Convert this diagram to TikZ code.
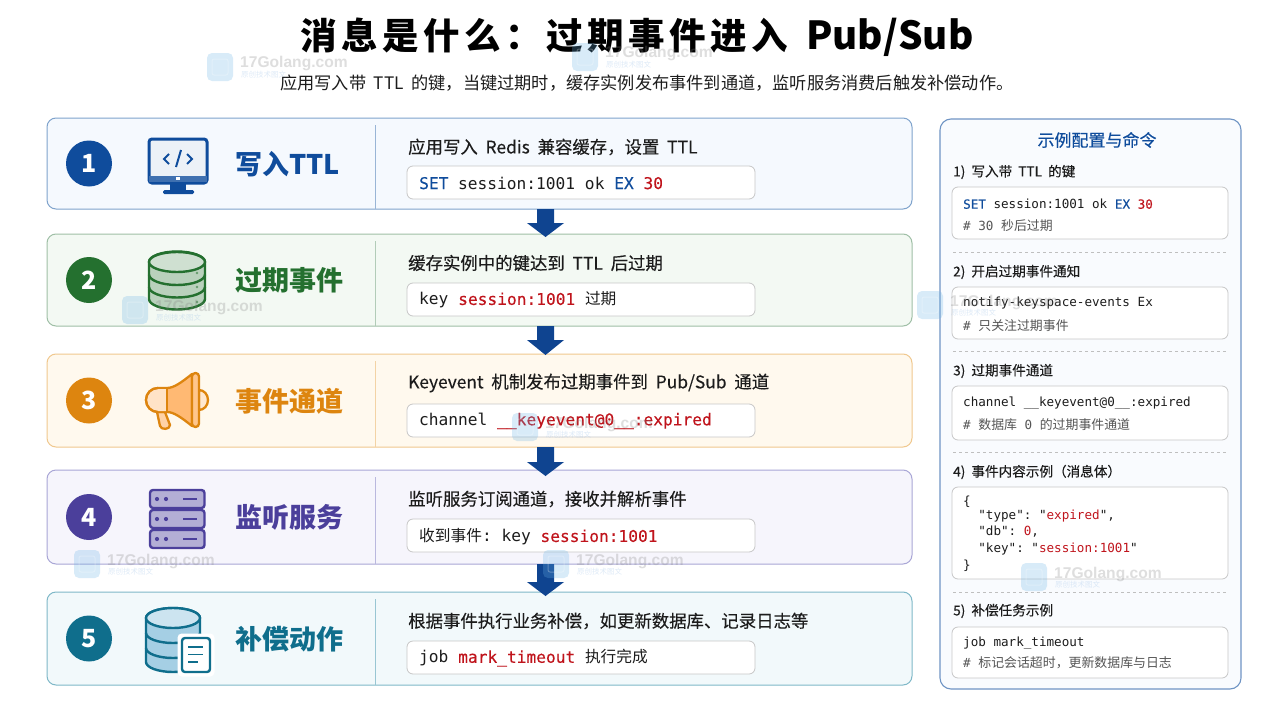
\documentclass[tikz,border=0pt]{standalone}
\usepackage{fontspec}
\setmainfont[WordSpace=2]{Noto Sans CJK SC}
\setmonofont{DejaVu Sans Mono}
\newfontfamily\cjk{Noto Sans CJK SC}
\newfontfamily\medf[WordSpace=2,FakeBold=0.25]{Noto Sans CJK SC}
\newfontfamily\titlecn[LetterSpace=12.5]{Noto Sans CJK SC}
\newfontfamily\monomed[FakeBold=0.25]{DejaVu Sans Mono}
\newfontfamily\wmfont{Liberation Sans}
\usetikzlibrary{calc}
\definecolor{cblue}{HTML}{0F4C9C}
\definecolor{cgreen}{HTML}{24702F}
\definecolor{corange}{HTML}{DD850F}
\definecolor{cpurple}{HTML}{4B3F9B}
\definecolor{cteal}{HTML}{0F6E8C}
\definecolor{cred}{HTML}{C0141C}
\definecolor{arrowblue}{HTML}{0F4490}
\definecolor{ink}{HTML}{1C1C1C}
\definecolor{gray1}{HTML}{555555}
\definecolor{fblue}{HTML}{F5F9FE}\definecolor{bblue}{HTML}{7FA3CC}
\definecolor{fgreen}{HTML}{F3F9F3}\definecolor{bgreen}{HTML}{9FBFA6}
\definecolor{forange}{HTML}{FFF9EE}\definecolor{borange}{HTML}{F0C88E}
\definecolor{fpurple}{HTML}{F6F5FC}\definecolor{bpurple}{HTML}{A9A6D6}
\definecolor{fteal}{HTML}{F2F9FB}\definecolor{bteal}{HTML}{7FB8C8}
\tikzset{
 card/.style={rounded corners=9pt,line width=1pt},
 codebox/.style={draw=black!22,fill=white,rounded corners=6pt,line width=.8pt},
 head/.style={anchor=west,inner sep=0pt,font=\medf\fontsize{17.4}{19}\selectfont,text=ink},
 codetext/.style={anchor=west,inner sep=0pt,font=\ttfamily\fontsize{16.2}{18}\selectfont,text=ink},
 label/.style={anchor=west,inner sep=0pt,font=\bfseries\fontsize{27}{29}\selectfont},
 num/.style={circle,minimum size=46pt,inner sep=0pt,text=white,font=\bfseries\fontsize{25}{25}\selectfont},
 shead/.style={anchor=west,inner sep=0pt,font=\medf\fontsize{13.6}{15}\selectfont,text=ink},
 scode/.style={anchor=west,inner sep=0pt,font=\ttfamily\fontsize{12.6}{14}\selectfont,text=ink},
 dashline/.style={draw=black!25,dashed,line width=.7pt},
 arrowblock/.style={fill=arrowblue,draw=none},
}
\newcommand{\cn}[1]{{\cjk\fontsize{15.7}{18}\selectfont #1}}
\newcommand{\sn}[1]{{\cjk\fontsize{12.9}{14}\selectfont #1}}
\newcommand{\kwb}[1]{\textcolor{cblue}{\monomed #1}}
\newcommand{\kwr}[1]{\textcolor{cred}{\monomed #1}}
\newcommand{\wm}[2]{%
 \begin{scope}[shift={(#1,#2)},opacity=.26]
 \fill[cyan!75!blue!60,rounded corners=5pt] (0,0) rectangle (26,28);
 \draw[white,line width=1pt,rounded corners=2pt] (5,6) rectangle (21,22);
 \node[anchor=west,inner sep=0pt,text=black!50,font=\wmfont\bfseries\fontsize{15.6}{15}\selectfont] at (33,11) {17Golang.com};
 \node[anchor=west,inner sep=0pt,text=cyan!60!blue!50,font=\cjk\fontsize{7.5}{8}\selectfont] at (34,22) {原创技术图文};
 \end{scope}}
\newcommand{\cardrow}[9]{% top,bottom,colour,fill,border,num,label,head,name
 \path[card,draw=#5,fill=#4] (47,#1) rectangle (912,#2);
 \draw[draw=#5!80,line width=.9pt] (375,#1+7) -- (375,#2);
 \node[num,fill=#3] (n#9) at (89,{(#1+#2)/2}) {#6};
 \node[label,text=#3] (l#9) at (235,{(#1+#2)/2+.5}) {#7};
 \node[head] (h#9) at (408,#1+29) {#8};
}
\begin{document}
\begin{tikzpicture}[x=1pt,y=-1pt]
\useasboundingbox (0,0) rectangle (1280,720);
\fill[white] (0,0) rectangle (1280,720);
% title
\node[anchor=west,inner sep=0pt,font=\bfseries\fontsize{38.6}{40}\selectfont,text=black] (title) at (300,37.5) {{\titlecn\fontsize{36.5}{40}\selectfont 消息是什么：过期事件进入} Pub/Sub};
\node[anchor=west,inner sep=0pt,font=\fontsize{17.2}{19}\selectfont,text=ink] (sub) at (280,83) {应用写入带 TTL 的键，当键过期时，缓存实例发布事件到通道，监听服务消费后触发补偿动作。};
% cards
\cardrow{118}{209}{cblue}{fblue}{bblue}{1}{写入TTL}{应用写入 Redis 兼容缓存，设置 TTL}{a}
\cardrow{234}{326}{cgreen}{fgreen}{bgreen}{2}{过期事件}{缓存实例中的键达到 TTL 后过期}{b}
\cardrow{354}{447}{corange}{forange}{borange}{3}{事件通道}{Keyevent 机制发布过期事件到 Pub/Sub 通道}{c}
\cardrow{470}{564}{cpurple}{fpurple}{bpurple}{4}{监听服务}{监听服务订阅通道，接收并解析事件}{d}
\cardrow{592}{685}{cteal}{fteal}{bteal}{5}{补偿动作}{根据事件执行业务补偿，如更新数据库、记录日志等}{e}
% code boxes
\path[codebox] (407,166) rectangle (755,199);
\node[codetext] (ca) at (419,183) {\kwb{SET} session:1001 ok \kwb{EX} \kwr{30}};
\path[codebox] (407,283) rectangle (755,316);
\node[codetext] (cb) at (419,300) {key \kwr{session:1001} \cn{过期}};
\path[codebox] (407,404) rectangle (755,437);
\node[codetext] (cc) at (419,421) {channel \kwr{\_\_keyevent@0\_\_:expired}};
\path[codebox] (407,519) rectangle (755,552);
\node[codetext] (cd) at (419,537) {\cn{收到事件}: key \kwr{session:1001}};
\path[codebox] (407,641) rectangle (755,674);
\node[codetext] (ce) at (419,658) {job \kwr{mark\_timeout} \cn{执行完成}};
% arrows
\foreach \t/\m/\b in {209/223/237, 326/340/355, 447/462/476, 564/582/596}{
 \path[arrowblock] (537,\t) -- (554,\t) -- (554,\m) -- (564,\m) -- (545.5,\b) -- (527,\m) -- (537,\m) -- cycle;
}
% icon 1 monitor
\begin{scope}
\fill[cblue] (170,183) rectangle (186,190);
\fill[cblue,rounded corners=1.5pt] (163,190) rectangle (194,194);
\path[draw=cblue,fill=cblue!8,line width=3pt,rounded corners=3pt] (149,139) rectangle (207,183);
\fill[cblue!80] (149,176) rectangle (207,182);
\fill[white] (176,177) rectangle (180,180);
\draw[cblue,line width=2pt] (169,154) -- (164,159) -- (169,164) (187,154) -- (192,159) -- (187,164) (181,150) -- (176,167);
\end{scope}
% icon 2 DB green
\begin{scope}[line width=2.4pt,draw=cgreen]
\path[draw,fill=green!35!black!0!cgreen!32!white] (149,262) -- (149,299) arc[start angle=180,end angle=0,x radius=28,y radius=10.5] -- (205,262) arc[start angle=0,end angle=-180,x radius=28,y radius=10.5] -- cycle;
\draw[fill=cgreen!22] (177,262) ellipse[x radius=28,y radius=10];
\draw (149,274.5) arc[start angle=180,end angle=0,x radius=28,y radius=10.5];
\draw (149,287) arc[start angle=180,end angle=0,x radius=28,y radius=10.5];
\fill[cgreen!70] (197,273) circle(1.4) (197,287) circle(1.4) (197,302) circle(1.4);
\end{scope}
% icon 3 megaphone
\begin{scope}[draw=corange,line width=2.3pt,line join=round]
\path[draw,fill=orange!35] (157,412) -- (160,426) .. controls (161,430) and (170,430) .. (170,425) -- (165,412) -- cycle;
\path[draw,fill=orange!55] (192,374) .. controls (182,382) and (174,388) .. (167,388) -- (158,388) arc[start angle=270,end angle=90,radius=12] -- (167,412) .. controls (174,412) and (182,418) .. (192,426) -- cycle;
\path[fill=orange!22] (158,389) arc[start angle=270,end angle=90,radius=11] -- (167,411) -- (167,389) -- cycle;
\draw (167,388) -- (167,412);
\draw (158,388) arc[start angle=270,end angle=90,radius=12];
\path[draw,fill=orange!18] (199,390) arc[start angle=-90,end angle=90,x radius=9,y radius=10] -- cycle;
\path[draw,fill=orange!45,rounded corners=3.4pt] (192,373) rectangle (199,427);
\end{scope}
% icon 4 servers
\begin{scope}[draw=cpurple,line width=2.4pt]
\foreach \y in {490,510,530}{
 \path[draw,fill=cpurple!42,rounded corners=3pt] (150,\y) rectangle (204.5,\y+18);
 \fill[cpurple] (157,\y+9) circle(2.1) (166,\y+9) circle(2.1);
 \draw[line width=2pt] (183,\y+9) -- (197,\y+9);
}
\end{scope}
% icon 5 DB + doc
\begin{scope}[draw=cteal,line width=2.4pt]
\path[draw,fill=cyan!50!cteal!40] (146,618) -- (146,662) arc[start angle=180,end angle=0,x radius=27,y radius=10] -- (200,618) arc[start angle=0,end angle=-180,x radius=27,y radius=10] -- cycle;
\draw[fill=cyan!50!cteal!22] (173,618) ellipse[x radius=27,y radius=10];
\draw (146,633) arc[start angle=180,end angle=0,x radius=27,y radius=10];
\draw (146,648) arc[start angle=180,end angle=0,x radius=27,y radius=10];
\path[draw=white,fill=white,line width=3pt,rounded corners=3pt] (179,635) rectangle (213,675);
\path[draw,fill=white,rounded corners=3pt] (182,638) rectangle (210,672);
\draw[line width=1.8pt] (188,647) -- (203,647) (188,654.5) -- (203,654.5) (188,662) -- (198,662);
\end{scope}
% side panel
\path[draw=cblue!60,fill=fblue!60,rounded corners=11pt,line width=1.1pt] (940,119) rectangle (1241,689);
\node[inner sep=0pt,text=cblue,font=\medf\fontsize{17}{19}\selectfont] (ptitle) at (1097,140) {示例配置与命令};
\node[shead] (s1) at (953,172) {1) 写入带 TTL 的键};
\path[codebox] (952,187) rectangle (1228,239);
\node[scode] (s1a) at (963,204) {\kwb{SET} session:1001 ok \kwb{EX} \kwr{30}};
\node[scode,text=gray1] (s1b) at (963,226) {\# 30 \sn{秒后过期}};
\draw[dashline] (953,252) -- (1226,252);
\node[shead] (s2) at (953,272) {2) 开启过期事件通知};
\path[codebox] (952,287) rectangle (1228,339);
\node[scode] (s2a) at (963,303) {notify-keyspace-events Ex};
\node[scode,text=gray1] (s2b) at (963,326) {\# \sn{只关注过期事件}};
\draw[dashline] (953,351) -- (1226,351);
\node[shead] (s3) at (953,371) {3) 过期事件通道};
\path[codebox] (952,386) rectangle (1228,440);
\node[scode] (s3a) at (963,403) {channel \_\_keyevent@0\_\_:expired};
\node[scode,text=gray1] (s3b) at (963,425) {\# \sn{数据库} 0 \sn{的过期事件通道}};
\draw[dashline] (953,452) -- (1226,452);
\node[shead] (s4) at (953,472) {4) 事件内容示例（消息体）};
\path[codebox] (952,487) rectangle (1228,579);
\node[scode] (s4a) at (963,502) {\{};
\node[scode] (s4b) at (963,516) {\ \ "type": "\textcolor{cred}{expired}",};
\node[scode] (s4c) at (963,532) {\ \ "db": \textcolor{cred}{0},};
\node[scode] (s4d) at (963,549) {\ \ "key": "\textcolor{cred}{session:1001}"};
\node[scode] (s4e) at (963,566) {\}};
\draw[dashline] (953,592) -- (1226,592);
\node[shead] (s5) at (953,611) {5) 补偿任务示例};
\path[codebox] (952,627) rectangle (1228,678);
\node[scode] (s5a) at (963,643) {job mark\_timeout};
\node[scode,text=gray1] (s5b) at (963,663) {\# \sn{标记会话超时，更新数据库与日志}};
% watermarks
\wm{207}{53}\wm{572}{43}\wm{122}{296}\wm{917}{291}\wm{512}{413}\wm{74}{550}\wm{543}{550}\wm{1021}{563}
\end{tikzpicture}
\end{document}
